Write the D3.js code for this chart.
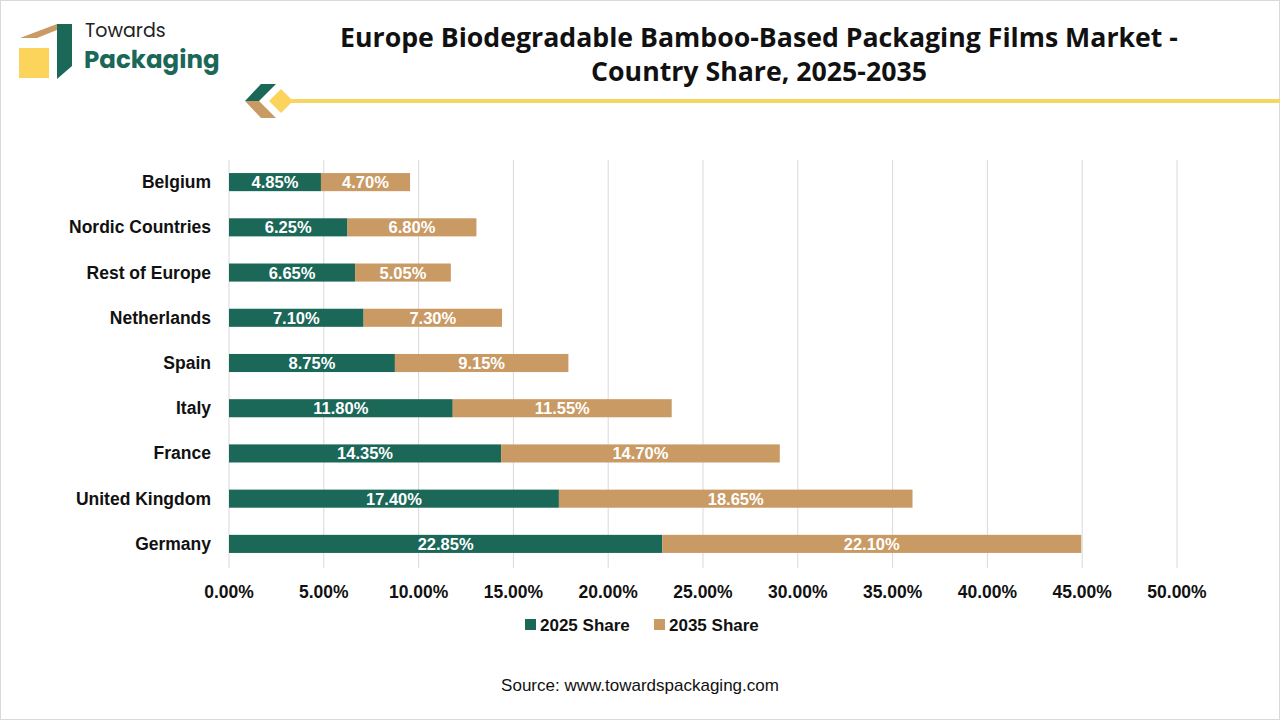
<!DOCTYPE html>
<html><head><meta charset="utf-8">
<script src="https://cdn.jsdelivr.net/npm/d3@7"></script>
<style>body{margin:0;background:#fff;font-family:"Liberation Sans",Arial,sans-serif}</style>
</head><body>
<svg id="c" width="1280" height="720"></svg>
<script>
const categories = ["Belgium","Nordic Countries","Rest of Europe","Netherlands","Spain","Italy","France","United Kingdom","Germany"];
const share2025 = [4.85,6.25,6.65,7.10,8.75,11.80,14.35,17.40,22.85];
const share2035 = [4.70,6.80,5.05,7.30,9.15,11.55,14.70,18.65,22.10];
const seriesNames = ["2025 Share","2035 Share"];
const tickValues = [0,5,10,15,20,25,30,35,40,45,50];
const colors = ["#1b6758","#c99a64"];

const svg = d3.select("#c");
svg.append("rect").attr("x",0.5).attr("y",0.5).attr("width",1279).attr("height",719).attr("fill","#fff").attr("stroke","#d9d9d9");

// logo
const lg = svg.append("g");
lg.append("path").attr("d","M20,38 L57,24 L72,24 L37,38 Z").attr("fill","#c99a64");
lg.append("path").attr("d","M57,24 L72,24 L72,66 L57,79 Z").attr("fill","#1b6758");
lg.append("rect").attr("x",19).attr("y",48).attr("width",30).attr("height",30).attr("fill","#fcd45c");
svg.append("text").attr("x",85).attr("y",36.5).attr("font-size",19).attr("fill","#222").attr("font-family","Poppins,Lato,'Open Sans',sans-serif").text("Towards");
svg.append("text").attr("x",84).attr("y",67.5).attr("font-size",24.5).attr("font-weight","bold").attr("fill","#1b6758").attr("font-family","Poppins,Lato,'Open Sans',sans-serif").text("Packaging");

// decoration
svg.append("line").attr("x1",285).attr("x2",1280).attr("y1",101).attr("y2",101).attr("stroke","#f7d660").attr("stroke-width",4);
svg.append("path").attr("d","M261,84 L276,84 L259,101 L245,101 Z").attr("fill","#1b6758");
svg.append("path").attr("d","M245,101 L259,101 L276,118 L261,118 Z").attr("fill","#c99a64");
svg.append("path").attr("d","M281,89 L293,101 L281,113 L269,101 Z").attr("fill","#fcd45c");

// title
const tf = "'Open Sans','DejaVu Sans',sans-serif";
svg.append("text").attr("x",759).attr("y",47).attr("text-anchor","middle").attr("font-size",26.7).attr("font-weight","bold").attr("font-family",tf).attr("fill","#111").text("Europe Biodegradable Bamboo-Based Packaging Films Market -");
svg.append("text").attr("x",759).attr("y",81).attr("text-anchor","middle").attr("font-size",26.7).attr("font-weight","bold").attr("font-family",tf).attr("fill","#111").text("Country Share, 2025-2035");

const x = d3.scaleLinear().domain([0,50]).range([229,1177]);
const y = d3.scaleBand().domain(categories).range([159.5,566.5]).paddingInner(0.6).paddingOuter(0.3);

// gridlines
svg.append("g").selectAll("line").data(tickValues).join("line")
  .attr("x1",d=>x(d)).attr("x2",d=>x(d)).attr("y1",160).attr("y2",568)
  .attr("stroke","#d9d9d9").attr("stroke-width",1);

const fs = 17.5;
// axis labels
svg.append("g").selectAll("text").data(tickValues).join("text")
  .attr("x",d=>x(d)).attr("y",597.5).attr("text-anchor","middle").attr("font-size",fs).attr("font-weight","bold").attr("fill","#111")
  .text(d=>d.toFixed(2)+"%");

svg.append("g").selectAll("text").data(categories).join("text")
  .attr("x",211).attr("y",d=>y(d)+y.bandwidth()/2+6).attr("text-anchor","end").attr("font-size",fs).attr("font-weight","bold").attr("fill","#111")
  .text(d=>d);

const data = categories.map((c,i)=>({c,a:share2025[i],b:share2035[i]}));
const stack = d3.stack().keys(["a","b"])(data);
const g = svg.append("g");
stack.forEach((s,si)=>{
  g.append("g").selectAll("rect").data(s).join("rect")
    .attr("x",d=>x(d[0])).attr("width",d=>x(d[1])-x(d[0]))
    .attr("y",d=>y(d.data.c)).attr("height",y.bandwidth()).attr("fill",colors[si]);
  g.append("g").selectAll("text").data(s).join("text")
    .attr("x",d=>(x(d[0])+x(d[1]))/2).attr("y",d=>y(d.data.c)+y.bandwidth()/2+6)
    .attr("text-anchor","middle").attr("font-size",16.5).attr("font-weight","bold").attr("fill","#fff")
    .text(d=>(d[1]-d[0]).toFixed(2)+"%");
});

// legend
const legX = [525,654];
seriesNames.forEach((n,i)=>{
  svg.append("rect").attr("x",legX[i]).attr("y",619).attr("width",11).attr("height",11).attr("fill",colors[i]);
  svg.append("text").attr("x",legX[i]+15).attr("y",631).attr("font-size",17).attr("font-weight","bold").attr("fill","#111").text(n);
});

svg.append("text").attr("x",640).attr("y",691).attr("text-anchor","middle").attr("font-size",17).attr("fill","#111").text("Source: www.towardspackaging.com");
</script>
</body></html>
